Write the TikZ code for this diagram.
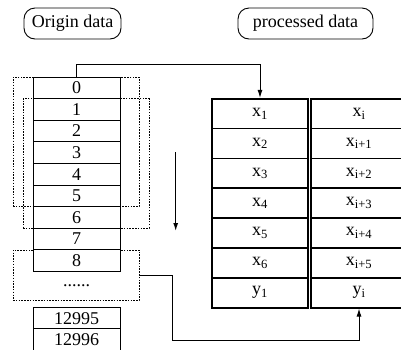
\documentclass[tikz,border=0pt]{standalone}
\usepackage{fontspec}
\setmainfont{Liberation Serif}
\newfontfamily\labelfont{Liberation Serif}
\usepackage{tikz}
\usetikzlibrary{arrows.meta}

\begin{document}
\begin{tikzpicture}[x=1pt, y=-1pt, >={Latex[length=8pt,width=5pt]},
    font=\labelfont\fontsize{18}{20}\selectfont,
    cell/.style={draw, line width=1pt, fill=white, minimum width=87pt, minimum height=21.6pt, inner sep=0pt},
    row/.style={draw, line width=1.6pt, minimum width=96pt, minimum height=29.86pt, inner sep=0pt},
    winbox/.style={draw, dash pattern=on 1.5pt off 1.3pt, line width=1pt, inner sep=0pt},
    title/.style={draw, line width=0.9pt, rounded corners=11pt, minimum height=31pt, inner sep=0pt}]
    \useasboundingbox (0, 0) rectangle (401, 349);
    % titles
    \node [title, minimum width=97pt]  (orig) at (72.5, 23.5)  {Origin data};
    \node [title, minimum width=135pt] (proc) at (305.5, 23.5) {processed data};
    % windows
    \node [winbox, minimum width=126pt, minimum height=129.5pt] (w1) at (76, 141.75) {};
    \node [winbox, minimum width=126pt, minimum height=129.5pt] (w2) at (86, 163.25) {};
    \node [winbox, minimum width=126pt, minimum height=50.7pt]  (w3) at (76, 275.35) {};
    % origin data
    \foreach \i in {0,...,8}
      \node [cell] (c\i) at (76.5, 87.8 + 21.6*\i) {\i};
    \node at (76.5, 286) (dots) {......};
    \node [cell, minimum height=21.3pt] (c12995) at (76.5, 318.3) {12995};
    \node [cell, minimum height=21.3pt] (c12996) at (76.5, 339.6) {12996};
    % processed data
    \foreach \i/\a/\b in {1/x\textsubscript{1}/x\textsubscript{i},
                          2/x\textsubscript{2}/x\textsubscript{i+1},
                          3/x\textsubscript{3}/x\textsubscript{i+2},
                          4/x\textsubscript{4}/x\textsubscript{i+3},
                          5/x\textsubscript{5}/x\textsubscript{i+4},
                          6/x\textsubscript{6}/x\textsubscript{i+5},
                          7/y\textsubscript{1}/y\textsubscript{i}} {
      \node [row] (a\i) at (260, 83.77 + 29.86*\i) {\a};
      \node [row] (b\i) at (359, 83.77 + 29.86*\i) {\b};
    }
    % arrows
    \draw [->, line width=1pt] (c0.north) -- ++(0, -12) -| (a1.north);
    \draw [->, line width=1pt] (w3.east) -- ++(33, 0) -- ++(0, 65.6) -| (b7.south);
    \coordinate (s1) at (175.7, 152);
    \coordinate (s2) at (175.7, 231);
    \draw [->, line width=1.2pt] (s1) -- (s2);
\end{tikzpicture}
\end{document}
